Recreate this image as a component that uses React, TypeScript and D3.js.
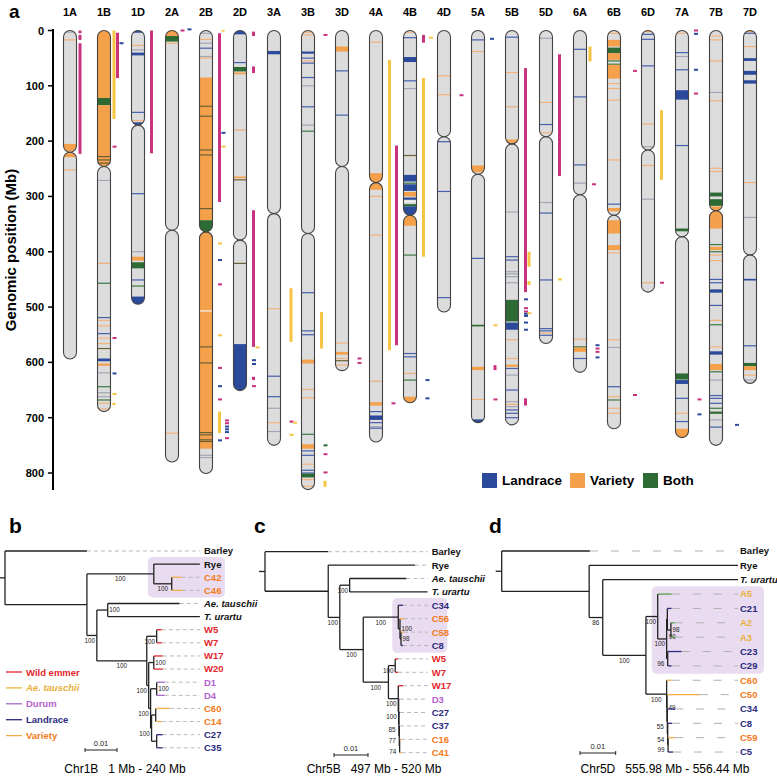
import React from 'react';
import * as d3 from 'd3';

// ---------------- Panel a data ----------------
const chromNames = ['1A','1B','1D','2A','2B','2D','3A','3B','3D','4A','4B','4D','5A','5B','5D','6A','6B','6D','7A','7B','7D'];
const chromLengths = [594,689,495,780,801,651,750,830,615,744,673,509,709,713,566,618,720,473,736,750,638];
const chromCentromeres = [220,246,171,361,364,379,331,367,246,275,334,192,260,205,192,297,334,216,373,326,406];

// bands: [startMb, endMb, type]  upper case = block, lower case = thin line
const band1A = [[3,3,'g'],[17,17,'v'],[205,218,'V'],[222,229,'V'],[252,252,'v']];
const band1B = [[0,122,'V'],[122,135,'B'],[135,246,'V'],[228,228,'d'],[234,234,'d'],[240,240,'d'],[271,271,'g'],[421,421,'v'],[457,457,'b'],[519,519,'l'],[524,524,'v'],[534,534,'v'],[548,548,'l'],[556,556,'v'],[566,566,'v'],[575,575,'d'],[593,598,'L'],[602,606,'V'],[619,619,'g'],[644,644,'b'],[655,655,'g'],[662,662,'g'],[668,668,'b'],[674,674,'v'],[684,684,'v']];
const band1D = [[0,4,'L'],[27,27,'v'],[35,35,'g'],[40,45,'L'],[148,148,'l'],[163,163,'v'],[166,170,'L'],[295,295,'l'],[400,400,'g'],[409,416,'V'],[419,430,'B'],[451,451,'l'],[462,462,'b'],[481,495,'L']];
const band2A = [[0,10,'V'],[10,20,'B'],[23,23,'v'],[728,728,'v']];
const band2B = [[5,5,'g'],[16,16,'v'],[23,23,'g'],[32,32,'l'],[47,47,'g'],[50,50,'v'],[85,343,'V'],[137,137,'d'],[155,155,'d'],[216,216,'d'],[225,225,'d'],[322,322,'d'],[343,364,'B'],[364,756,'V'],[507,507,'w'],[572,572,'d'],[601,601,'d'],[727,727,'d'],[731,731,'d'],[740,740,'d'],[743,743,'d'],[768,768,'g'],[772,772,'g']];
const band2D = [[0,7,'L'],[58,58,'l'],[66,74,'B'],[76,79,'V'],[180,180,'v'],[264,267,'V'],[270,270,'d'],[421,421,'d'],[567,651,'L']];
const band3A = [[37,43,'L'],[503,503,'v'],[625,625,'l'],[662,662,'l'],[683,683,'g'],[709,709,'v'],[725,725,'g']];
const band3B = [[3,3,'v'],[8,8,'v'],[38,42,'L'],[50,50,'l'],[55,55,'v'],[59,59,'l'],[85,85,'l'],[100,100,'g'],[138,138,'l'],[171,171,'g'],[182,182,'b'],[474,474,'l'],[543,543,'l'],[550,550,'l'],[595,602,'V'],[649,649,'v'],[664,664,'v'],[730,730,'b'],[748,756,'V'],[760,760,'l'],[768,768,'l'],[784,784,'v'],[795,795,'l'],[800,800,'l'],[801,808,'B'],[812,812,'v'],[824,830,'v']];
const band3D = [[29,38,'V'],[73,73,'l'],[153,153,'l'],[565,565,'v'],[581,586,'V'],[593,593,'v'],[597,597,'d'],[605,605,'v']];
const band4A = [[21,21,'v'],[258,275,'V'],[275,288,'V'],[300,300,'v'],[370,370,'v'],[634,634,'v'],[672,678,'V'],[689,689,'l'],[696,704,'L'],[709,709,'l'],[716,716,'g'],[719,719,'l']];
const band4B = [[3,3,'v'],[13,13,'l'],[48,57,'L'],[91,91,'l'],[105,105,'g'],[226,226,'d'],[261,273,'L'],[275,277,'B'],[278,290,'L'],[292,300,'V'],[302,306,'L'],[309,309,'w'],[314,318,'B'],[318,334,'L'],[334,353,'V'],[406,406,'b'],[584,584,'l'],[590,590,'l'],[620,620,'v'],[632,632,'b'],[662,673,'V']];
const band4D = [[82,82,'v'],[116,116,'v'],[201,201,'l'],[291,291,'l'],[483,483,'l']];
const band5A = [[17,17,'l'],[38,38,'v'],[244,256,'V'],[412,412,'l'],[532,535,'B'],[608,614,'V'],[667,667,'v'],[703,709,'L']];
const band5B = [[12,12,'l'],[76,76,'v'],[138,138,'v'],[197,203,'V'],[328,328,'g'],[409,409,'l'],[415,415,'l'],[436,436,'g'],[440,440,'g'],[445,445,'g'],[456,456,'g'],[487,526,'B'],[528,541,'L'],[559,559,'v'],[593,593,'v'],[604,608,'V'],[611,611,'l'],[623,623,'g'],[650,650,'l'],[671,671,'g'],[676,676,'v'],[680,680,'g'],[686,686,'l'],[692,692,'l'],[700,700,'l']];
const band5D = [[14,14,'g'],[130,130,'v'],[170,170,'l'],[185,185,'v'],[311,311,'g'],[330,330,'l'],[451,451,'l'],[539,539,'l'],[543,543,'l'],[547,547,'v'],[551,551,'l']];
const band6A = [[34,34,'l'],[120,120,'l'],[243,243,'l'],[276,276,'g'],[558,558,'v'],[571,573,'B'],[573,581,'V'],[593,593,'l']];
const band6B = [[5,5,'v'],[17,29,'V'],[31,41,'B'],[41,53,'V'],[55,55,'b'],[61,61,'b'],[62,87,'V'],[96,96,'v'],[105,105,'v'],[126,126,'v'],[234,234,'v'],[314,314,'l'],[321,327,'V'],[343,367,'V'],[388,397,'V'],[402,402,'v'],[559,559,'v'],[573,573,'g'],[644,644,'l'],[662,662,'v'],[668,668,'b'],[683,683,'v'],[692,692,'v']];
const band6D = [[0,3,'V'],[7,7,'l'],[16,16,'l'],[64,64,'l'],[169,169,'v'],[210,210,'g'],[244,244,'v'],[305,305,'g'],[456,456,'v']];
const band7A = [[5,5,'v'],[40,40,'l'],[47,47,'g'],[71,71,'l'],[108,125,'L'],[208,208,'l'],[358,363,'B'],[620,631,'B'],[632,639,'L'],[665,665,'l'],[692,692,'v'],[707,707,'l'],[720,736,'V']];
const band7B = [[10,10,'v'],[17,17,'v'],[55,55,'v'],[112,112,'g'],[127,127,'v'],[249,249,'v'],[255,255,'v'],[293,300,'B'],[305,317,'B'],[318,326,'V'],[326,358,'V'],[387,387,'b'],[391,397,'V'],[400,400,'b'],[406,406,'v'],[416,416,'v'],[450,450,'l'],[456,456,'l'],[468,474,'L'],[497,497,'l'],[524,524,'v'],[532,532,'b'],[572,572,'v'],[580,586,'L'],[603,614,'V'],[617,617,'b'],[632,632,'g'],[660,660,'l'],[665,665,'l'],[674,674,'l'],[683,683,'b'],[689,693,'B'],[704,704,'g'],[717,717,'l']];
const band7D = [[0,3,'V'],[5,5,'l'],[29,29,'v'],[50,55,'L'],[73,80,'L'],[90,96,'L'],[275,275,'v'],[338,338,'g'],[449,452,'L'],[570,570,'l'],[601,607,'B'],[607,614,'V'],[623,623,'v'],[632,632,'g']];
const chromBands = [band1A,band1B,band1D,band2A,band2B,band2D,band3A,band3B,band3D,band4A,band4B,band4D,band5A,band5B,band5D,band6A,band6B,band6D,band7A,band7B,band7D];

// side marks: [startMb, endMb, colour, lane]
const mark1A = [[0,5,'p',0],[8,17,'p',0],[23,223,'p',0]];
const mark1B = [[0,160,'y',0],[4,86,'p',1],[23,23,'l',2],[210,210,'p',0],[556,556,'p',0],[620,620,'l',0],[657,657,'y',0],[673,677,'y',0]];
const mark1D = [[0,222,'p',1]];
const mark2A = [[0,0,'p',0],[-2,-2,'l',2]];
const mark2B = [[-1,2,'y',2],[5,310,'p',1],[185,185,'l',2],[210,210,'y',2],[385,385,'y',1],[415,415,'l',1],[459,459,'p',1],[551,551,'y',1],[610,610,'p',1],[643,643,'l',1],[667,667,'p',1],[689,728,'y',1],[705,705,'p',3],[710,710,'p',3],[716,716,'l',3],[721,721,'l',3],[726,726,'l',3],[737,737,'p',3],[741,741,'l',1]];
const mark2D = [[2,10,'p',1],[65,77,'p',1],[325,572,'p',1],[573,573,'y',2],[596,596,'l',1],[603,603,'l',1],[626,632,'p',1],[643,643,'p',1]];
const mark3A = [[466,563,'y',2],[707,707,'p',2],[709,709,'y',3],[731,731,'y',2]];
const mark3B = [[8,8,'p',2],[509,575,'y',1],[750,750,'b',2],[766,766,'p',2],[799,799,'p',2],[814,825,'y',2]];
const mark3D = [[593,593,'p',2],[601,601,'p',2]];
const mark4A = [[53,578,'y',1],[208,569,'p',3],[674,674,'p',2]];
const mark4B = [[8,22,'p',1],[13,13,'y',3],[86,409,'y',1],[632,632,'l',2],[665,665,'l',2]];
const mark4D = [[117,117,'p',2]];
const mark5A = [[15,15,'l',1],[533,533,'y',2],[605,614,'p',2],[667,667,'p',2]];
const mark5B = [[68,473,'p',1],[400,427,'y',2],[453,460,'y',2],[486,486,'l',1],[502,502,'p',1],[508,508,'p',1],[512,512,'l',1],[511,511,'y',2],[516,516,'l',1],[528,528,'l',1],[541,541,'l',1],[665,678,'p',1]];
const mark5D = [[43,263,'p',1],[450,450,'y',1]];
const mark6A = [[29,56,'y',0],[278,278,'p',1],[569,569,'l',2],[575,575,'p',2],[581,581,'p',2],[591,591,'l',2]];
const mark6B = [[73,73,'p',3],[659,659,'p',3]];
const mark6D = [[144,270,'y',1],[456,456,'p',1]];
const mark7A = [[0,0,'p',1],[6,6,'l',1],[71,71,'l',1],[114,114,'p',1],[667,667,'p',2],[694,694,'l',2]];
const mark7B = [[713,713,'l',3]];
const mark7D: any[] = [];
const chromMarks = [mark1A,mark1B,mark1D,mark2A,mark2B,mark2D,mark3A,mark3B,mark3D,mark4A,mark4B,mark4D,mark5A,mark5B,mark5D,mark6A,mark6B,mark6D,mark7A,mark7B,mark7D];

const yTicks = [0,100,200,300,400,500,600,700,800];
const legendLabels = ['Landrace','Variety','Both'];
const legendKeys = ['L','V','B'];

// ---------------- Trees ----------------
// sr: support label to the right of the node (1) or below the node's lower end (2)
const treeB = { len: 0, kids: [
  { name: 'Barley', len: 0.0256, grp: 'out' },
  { len: 0.0256, kids: [
    { len: 0.0209, sup: 100, kids: [
      { name: 'Rye', len: 0.0144, grp: 'out' },
      { len: 0.0056, sup: 100, kids: [
        { name: 'C42', len: 0.0031, grp: 'V' },
        { name: 'C46', len: 0.0034, grp: 'V' } ] } ] },
    { len: 0.0031, sup: 100, kids: [
      { len: 0.0034, sup: 100, sr: 1, kids: [
        { name: 'Ae. tauschii', len: 0.0225, grp: 'outI' },
        { name: 'T. urartu', len: 0.0288, grp: 'outI' } ] },
      { len: 0.0156, sup: 100, kids: [
        { len: 0.0031, sup: 100, kids: [
          { name: 'W5', len: 0.0016, grp: 'W' },
          { name: 'W7', len: 0.0016, grp: 'W' } ] },
        { len: 0.0006, sup: 100, kids: [
          { len: 0.0016, sup: 100, sr: 1, kids: [
            { name: 'W17', len: 0.0028, grp: 'W' },
            { name: 'W20', len: 0.0028, grp: 'W' } ] },
          { len: 0.0006, sup: 100, kids: [
            { len: 0.0019, sup: 100, sr: 1, kids: [
              { name: 'D1', len: 0.0025, grp: 'D' },
              { name: 'D4', len: 0.0025, grp: 'D' } ] },
            { len: 0.0003, sup: 100, kids: [
              { len: 0.0013, kids: [
                { name: 'C60', len: 0.0044, grp: 'V' },
                { name: 'C14', len: 0.0019, grp: 'V' } ] },
              { len: 0.0016, kids: [
                { name: 'C27', len: 0.0019, grp: 'L' },
                { name: 'C35', len: 0.0019, grp: 'L' } ] } ] } ] } ] } ] } ] } ] } ] };

const treeC = { len: 0, kids: [
  { name: 'Barley', len: 0.0186, grp: 'out' },
  { len: 0.0186, kids: [
    { name: 'Rye', len: 0.0255, grp: 'out' },
    { len: 0.0034, sup: 100, kids: [
      { len: 0.0029, sup: 100, kids: [
        { name: 'Ae. tauschii', len: 0.0167, grp: 'outI' },
        { name: 'T. urartu', len: 0.0229, grp: 'outI' } ] },
      { len: 0.0069, sup: 100, kids: [
        { len: 0.0103, sup: 100, kids: [
          { name: 'C34', len: 0.0014, grp: 'L' },
          { len: 0.0005, sup: 100, sr: 1, kids: [
            { name: 'C56', len: 0.0012, grp: 'V' },
            { len: 0.0003, sup: 98, sr: 1, kids: [
              { name: 'C58', len: 0.0009, grp: 'V' },
              { name: 'C8', len: 0.0006, grp: 'L' } ] } ] } ] },
        { len: 0.0074, sup: 100, kids: [
          { len: 0.002, sup: 100, kids: [
            { name: 'W5', len: 0.0009, grp: 'W' },
            { name: 'W7', len: 0.0009, grp: 'W' } ] },
          { len: 0.0029, sup: 100, kids: [
            { name: 'W17', len: 0.0014, grp: 'W' },
            { len: 0.0001, sup: 100, kids: [
              { name: 'D3', len: 0.0004, grp: 'D' },
              { len: 0.0001, sup: 85, kids: [
                { name: 'C27', len: 0.0003, grp: 'L' },
                { len: 0.0001, sup: 77, kids: [
                  { name: 'C37', len: 0.0002, grp: 'L' },
                  { len: 0.0001, sup: 74, kids: [
                    { name: 'C16', len: 0.0006, grp: 'V' },
                    { name: 'C41', len: 0.0006, grp: 'V' }
                  ] }
                ] }
              ] }
            ] }
          ] }
        ] }
      ] }
    ] }
  ] }
] };

const treeD = { len: 0, kids: [
  { name: 'Barley', len: 0.0247, grp: 'out' },
  { len: 0.0245, kids: [
    { name: 'Rye', len: 0.0417, grp: 'out' },
    { len: 0.0038, sup: 86, kids: [
      { name: 'T. urartu', len: 0.0379, grp: 'outI' },
      { len: 0.0121, sup: 100, kids: [
        { len: 0.0033, sup: 100, kids: [
          { name: 'A5', len: 0.0039, grp: 'A' },
          { len: 0.0025, sup: 100, kids: [
            { len: 0.0002, sup: 90, sr: 2, kids: [
              { name: 'C21', len: 0.0012, grp: 'L' },
              { len: 0.001, sup: 98, sr: 1, kids: [
                { name: 'A2', len: 0.0011, grp: 'A' },
                { name: 'A3', len: 0.0011, grp: 'A' } ] } ] },
            { len: 0.0003, sup: 96, kids: [
              { name: 'C23', len: 0.0039, grp: 'L' },
              { name: 'C29', len: 0.0011, grp: 'L' } ] } ] } ] },
        { len: 0.0058, sup: 100, kids: [
          { name: 'C60', len: 0.0014, grp: 'V' },
          { len: 0.0001, sup: 49, sr: 1, kids: [
            { name: 'C50', len: 0.0092, grp: 'V' },
            { len: 0.0001, sup: 55, kids: [
              { name: 'C34', len: 0.0022, grp: 'L' },
              { len: 0.0001, sup: 54, kids: [
                { name: 'C8', len: 0.0012, grp: 'L' },
                { len: 0.0001, sup: 99, kids: [
                  { name: 'C59', len: 0.002, grp: 'V' },
                  { name: 'C5', len: 0.0014, grp: 'L' }
                ] }
              ] }
            ] }
          ] }
        ] }
      ] }
    ] }
  ] }
] };

const treeLegendLabels = ['Wild emmer', 'Ae. tauschii', 'Durum', 'Landrace', 'Variety'];
const treeLegendGroups = ['W', 'Ay', 'D', 'L', 'V'];
const captionB = 'Chr1B   1 Mb - 240 Mb';
const captionC = 'Chr5B   497 Mb - 520 Mb';
const captionD = 'Chr5D   555.98 Mb - 556.44 Mb';

// ---------------- styles ----------------
const bandColor: Record<string, string> = {
  L: '#2b4a9c', V: '#f5a04a', B: '#2d6a34',
  l: '#4660ad', v: '#f3b27c', g: '#a2a7b6', b: '#3c7a43', d: '#6a6238', w: '#f6f6f6'
};
const markColor: Record<string, string> = { p: '#c8327f', y: '#f7c444', l: '#2b4a9c', b: '#2d6a34' };
const labelColor: Record<string, string> = { out: '#111', outI: '#111', W: '#e3262b', A: '#e9b03c', Ay: '#e9b03c', D: '#b35fd0', L: '#2c2a80', V: '#f47a20' };
const branchColor: Record<string, string> = { out: '#222', outI: '#222', W: '#e3262b', A: '#5aa04d', Ay: '#e9b43c', D: '#a868c8', L: '#2c2a80', V: '#f2ad45' };

const FONT = 'Liberation Sans, Arial, Helvetica, sans-serif';

function Tree(props: any) {
  const { data, x0, unitPx, y0, step, labelX, dashEnd, dash, dashColor, boxFirst, boxLast, boxRight } = props;
  const root: any = d3.hierarchy(data, (d: any) => d.kids);
  const xs = d3.scaleLinear().domain([0, 0.01]).range([x0, x0 + unitPx]);
  root.each((n: any) => { n.dist = (n.parent ? n.parent.dist : 0) + n.data.len; });
  const leaves = root.leaves();
  const ys = d3.scaleLinear().domain([0, leaves.length - 1]).range([y0, y0 + step * (leaves.length - 1)]);
  leaves.forEach((l: any, i: number) => { l.yy = ys(i); });
  root.eachAfter((n: any) => {
    if (n.children) n.yy = (n.children[0].yy + n.children[n.children.length - 1].yy) / 2;
  });
  const first = leaves.find((l: any) => l.data.name === boxFirst);
  const last = leaves.find((l: any) => l.data.name === boxLast);
  const path = first.path(last);
  const lca = path.reduce((a: any, b: any) => (b.depth < a.depth ? b : a));
  const nodes = root.descendants();
  return (
    <g>
      <rect x={xs(lca.dist) - 6} y={first.yy - step * 0.55} width={labelX + boxRight - (xs(lca.dist) - 6)}
        height={last.yy - first.yy + step * 1.1} rx={5} fill="#e9dcf0" />
      <line x1={x0 - 6} x2={x0} y1={root.yy} y2={root.yy} stroke="#222" strokeWidth={1.3} />
      {nodes.map((n: any, i: number) => {
        const els: any[] = [];
        if (n.parent) {
          const leaf = !n.children;
          const col = leaf ? branchColor[n.data.grp] : '#222';
          els.push(<line key={'h' + i} x1={xs(n.parent.dist)} x2={xs(n.dist)} y1={n.yy} y2={n.yy}
            stroke={col} strokeWidth={1.3} />);
        }
        if (n.children) {
          els.push(<line key={'v' + i} x1={xs(n.dist)} x2={xs(n.dist)} y1={n.children[0].yy}
            y2={n.children[n.children.length - 1].yy} stroke="#222" strokeWidth={1.3} />);
        }
        if (!n.children) {
          if (xs(n.dist) < dashEnd - 2) {
            els.push(<line key={'d' + i} x1={xs(n.dist)} x2={dashEnd} y1={n.yy} y2={n.yy}
              stroke={dashColor} strokeWidth={1} strokeDasharray={dash} />);
          }
          const it = n.data.grp === 'outI' || n.data.grp === 'Ay';
          els.push(<text key={'t' + i} x={labelX} y={n.yy + 3.4} fontSize={9.5} fontWeight="bold"
            fontStyle={it ? 'italic' : 'normal'} fill={labelColor[n.data.grp]}>{n.data.name}</text>);
        }
        if (n.data.sup !== undefined && n.parent) {
          const px = xs(n.parent.dist), nx = xs(n.dist);
          if (n.data.sr === 1) {
            els.push(<text key={'s' + i} x={nx + 1.5} y={n.yy + 2.2} fontSize={6.3} fill="#222">{n.data.sup}</text>);
          } else if (n.data.sr === 2) {
            const lowEnd = n.children[n.children.length - 1].yy;
            els.push(<text key={'s' + i} x={nx + 1.5} y={lowEnd + 9.5} fontSize={6.3} fill="#222">{n.data.sup}</text>);
          } else {
            const lx = Math.min((px + nx) / 2, nx - 7);
            els.push(<text key={'s' + i} x={lx} y={n.yy + 7.5} fontSize={6.3} textAnchor="middle" fill="#222">{n.data.sup}</text>);
          }
        }
        return <g key={i}>{els}</g>;
      })}
    </g>
  );
}

function ScaleBar(props: any) {
  const { x, y, unitPx } = props;
  const s = d3.scaleLinear().domain([0, 0.01]).range([x, x + unitPx]);
  return (
    <g>
      <line x1={s(0)} x2={s(0.01)} y1={y} y2={y} stroke="#222" strokeWidth={1} />
      <line x1={s(0)} x2={s(0)} y1={y - 2} y2={y + 2} stroke="#222" strokeWidth={1} />
      <line x1={s(0.01)} x2={s(0.01)} y1={y - 2} y2={y + 2} stroke="#222" strokeWidth={1} />
      <text x={(s(0) + s(0.01)) / 2} y={y - 4.5} fontSize={7.5} textAnchor="middle" fill="#222">0.01</text>
    </g>
  );
}

export default function App() {
  const y = d3.scaleLinear().domain([0, 800]).range([30.5, 473]);
  const x = d3.scalePoint<string>().domain(chromNames).range([70, 750]);
  const W = 13;
  const R = W / 2;
  const legendX = [482, 570, 643];

  return (
    <svg width={777} height={781} style={{ position: 'absolute', left: 0, top: 0, fontFamily: FONT }}>
      <rect width={777} height={781} fill="#fff" />
      <defs>
        {chromNames.map((nm, i) => {
          const cx = x(nm) as number;
          return (
            <clipPath id={'clip' + nm} key={nm}>
              <rect x={cx - R} y={y(0)} width={W} height={y(chromCentromeres[i]) - y(0)} rx={R} ry={R} />
              <rect x={cx - R} y={y(chromCentromeres[i])} width={W} height={y(chromLengths[i]) - y(chromCentromeres[i])} rx={R} ry={R} />
            </clipPath>
          );
        })}
      </defs>

      {/* panel a */}
      <text x={9} y={17.5} fontSize={19} fontWeight="bold">a</text>
      <line x1={53} x2={53} y1={y(0) - 1.5} y2={490} stroke="#000" strokeWidth={2} />
      {yTicks.map(t => (
        <g key={t}>
          <line x1={48} x2={53} y1={y(t)} y2={y(t)} stroke="#000" strokeWidth={1.5} />
          <text x={44} y={y(t) + 4} fontSize={11} fontWeight="bold" textAnchor="end">{t}</text>
        </g>
      ))}
      <text transform={`translate(16,${250}) rotate(-90)`} fontSize={15} fontWeight="bold" textAnchor="middle">Genomic position (Mb)</text>

      {chromNames.map((nm, i) => {
        const cx = x(nm) as number;
        const cen = chromCentromeres[i];
        const len = chromLengths[i];
        return (
          <g key={nm}>
            <text x={cx} y={16} fontSize={11} fontWeight="bold" textAnchor="middle">{nm}</text>
            <g clipPath={`url(#clip${nm})`}>
              <rect x={cx - R} y={y(0)} width={W} height={y(len) - y(0)} fill="#dcdcdc" />
              {chromBands[i].map((b: any, j: number) => {
                const thin = b[2] === b[2].toLowerCase();
                const y0 = thin ? y(b[0]) - 0.6 : y(b[0]);
                const h = thin ? 1.2 : Math.max(1, y(b[1]) - y(b[0]));
                return <rect key={j} x={cx - R} y={y0} width={W} height={h} fill={bandColor[b[2]]} />;
              })}
            </g>
            <rect x={cx - R} y={y(0)} width={W} height={y(cen) - y(0)} rx={R} ry={R} fill="none" stroke="#444" strokeWidth={1.1} />
            <rect x={cx - R} y={y(cen)} width={W} height={y(len) - y(cen)} rx={R} ry={R} fill="none" stroke="#444" strokeWidth={1.1} />
            {chromMarks[i].map((m: any, j: number) => {
              const mx = cx + R + 2 + m[3] * 3.5;
              const tick = m[1] - m[0] < 3;
              if (tick) {
                return <rect key={'m' + j} x={mx} y={y(m[0]) - 1} width={4} height={2} fill={markColor[m[2]]} />;
              }
              return <rect key={'m' + j} x={mx} y={y(m[0])} width={3} height={y(m[1]) - y(m[0])} fill={markColor[m[2]]} />;
            })}
          </g>
        );
      })}

      {legendLabels.map((lab, i) => (
        <g key={lab}>
          <rect x={legendX[i]} y={473} width={15} height={15} fill={bandColor[legendKeys[i]]} />
          <text x={legendX[i] + 20} y={485} fontSize={13.5} fontWeight="bold">{lab}</text>
        </g>
      ))}

      {/* panel b */}
      <text x={9} y={533} fontSize={21} fontWeight="bold">b</text>
      <Tree data={treeB} x0={5} unitPx={32} y0={551} step={13.12} labelX={204} dashEnd={200}
        dash="4,3" dashColor="#b8b8b8" boxFirst="Rye" boxLast="C46" boxRight={21} />
      {treeLegendLabels.map((lab, i) => (
        <g key={lab}>
          <line x1={6} x2={22} y1={672 + i * 15.9} y2={672 + i * 15.9} stroke={branchColor[treeLegendGroups[i]]} strokeWidth={1.3} />
          <text x={26} y={672 + i * 15.9 + 3.5} fontSize={9.5} fontWeight="bold"
            fontStyle={treeLegendGroups[i] === 'Ay' ? 'italic' : 'normal'} fill={labelColor[treeLegendGroups[i]]}>{lab}</text>
        </g>
      ))}
      <ScaleBar x={85} y={750} unitPx={32} />
      <text x={125} y={773} fontSize={12} textAnchor="middle" style={{ whiteSpace: 'pre' }}>{captionB}</text>

      {/* panel c */}
      <text x={254} y={533} fontSize={21} fontWeight="bold">c</text>
      <Tree data={treeC} x0={265} unitPx={34} y0={551.7} step={13.4} labelX={431.7} dashEnd={428}
        dash="4,3" dashColor="#b8b8b8" boxFirst="C34" boxLast="C8" boxRight={15.5} />
      <ScaleBar x={334} y={755} unitPx={34} />
      <text x={374} y={773} fontSize={12} textAnchor="middle" style={{ whiteSpace: 'pre' }}>{captionC}</text>

      {/* panel d */}
      <text x={489} y={533} fontSize={21} fontWeight="bold">d</text>
      <Tree data={treeD} x0={501.7} unitPx={35.7} y0={551} step={14.36} labelX={740} dashEnd={738}
        dash="8,13" dashColor="#b0b0b0" boxFirst="A5" boxLast="C29" boxRight={24} />
      <ScaleBar x={580} y={753} unitPx={35.7} />
      <text x={665} y={773} fontSize={12} textAnchor="middle" style={{ whiteSpace: 'pre' }}>{captionD}</text>
    </svg>
  );
}
